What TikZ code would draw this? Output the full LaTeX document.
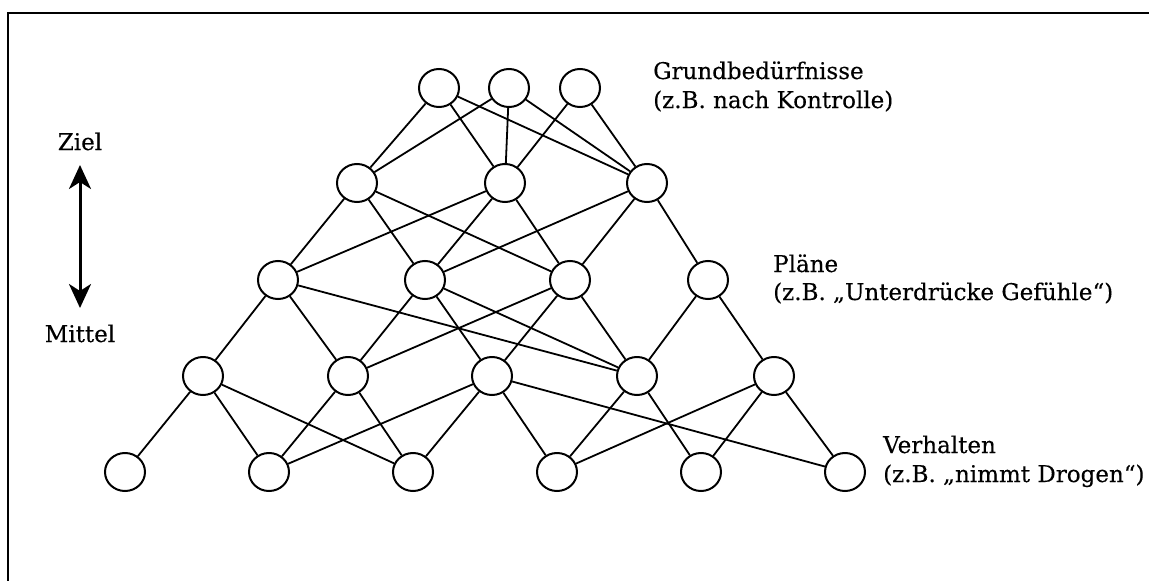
\documentclass[tikz,border=0pt]{standalone}
\usepackage{fontspec}
\setmainfont[FakeBold=0.3]{DejaVu Serif}
\usetikzlibrary{shapes.geometric,arrows.meta}
\begin{document}
\begin{tikzpicture}[x=1pt,y=-1pt,
  unit/.style={draw,ellipse,line width=2pt,minimum width=40pt,minimum height=38pt,inner sep=0pt,fill=white},
  edge/.style={line width=1.8pt},
  lbl/.style={anchor=base west,inner sep=0pt,font=\fontsize{23}{28}\selectfont},
  side/.style={anchor=base,inner sep=0pt,font=\fontsize{23}{28}\selectfont}]
\useasboundingbox (0,0) rectangle (1149,581);
% frame
\draw[line width=2pt] (8,581) |- (1149,13);

% basic needs
\node[unit] (T1) at (439,88) {};
\node[unit] (T2) at (509,88) {};
\node[unit] (T3) at (580,88) {};
% upper plans
\node[unit] (A1) at (357,183) {};
\node[unit] (A2) at (505,183) {};
\node[unit] (A3) at (647,183) {};
% plans
\node[unit] (B1) at (278,280) {};
\node[unit] (B2) at (425,280) {};
\node[unit] (B3) at (570,280) {};
\node[unit] (B4) at (708,280) {};
% lower plans
\node[unit] (C1) at (203,376) {};
\node[unit] (C2) at (348,376) {};
\node[unit] (C3) at (492,376) {};
\node[unit] (C4) at (637,376) {};
\node[unit] (C5) at (774,376) {};
% behaviour
\node[unit] (D1) at (125,472) {};
\node[unit] (D2) at (269,472) {};
\node[unit] (D3) at (413,472) {};
\node[unit] (D4) at (557,472) {};
\node[unit] (D5) at (701,472) {};
\node[unit] (D6) at (845,472) {};

% links
\foreach \a/\b in {T1/A1,T1/A2,T1/A3,T2/A1,T2/A2,T2/A3,T3/A2,T3/A3,
  A1/B1,A1/B2,A1/B3,A2/B1,A2/B2,A2/B3,A3/B2,A3/B3,A3/B4,
  B1/C1,B1/C2,B1/C4,B2/C2,B2/C3,B2/C4,B3/C2,B3/C3,B3/C4,B4/C4,B4/C5,
  C1/D1,C1/D2,C1/D3,C2/D2,C2/D3,C3/D2,C3/D3,C3/D4,C3/D6,C4/D4,C4/D5,
  C5/D4,C5/D5,C5/D6}
  \draw[edge] (\a) -- (\b);

% level labels
\node[lbl] (g1) at (653,79) {Grundbedürfnisse};
\node[lbl] (g2) at (653,108) {(z.B. nach Kontrolle)};
\node[lbl] (p1) at (773,272) {Pläne};
\node[lbl] (p2) at (773,300) {(z.B. „Unterdrücke Gefühle“)};
\node[lbl] (v1) at (883,453) {Verhalten};
\node[lbl] (v2) at (883,482) {(z.B. „nimmt Drogen“)};

% goal / means axis
\node[side] (ziel) at (80,150) {Ziel};
\node[side] (mittel) at (80,342) {Mittel};
\coordinate (up) at (80,165);
\coordinate (down) at (80,308);
\draw[line width=3pt,{Stealth[length=24pt,width=22pt,inset=7pt]}-{Stealth[length=24pt,width=22pt,inset=7pt]}] (up) -- (down);
\end{tikzpicture}
\end{document}
